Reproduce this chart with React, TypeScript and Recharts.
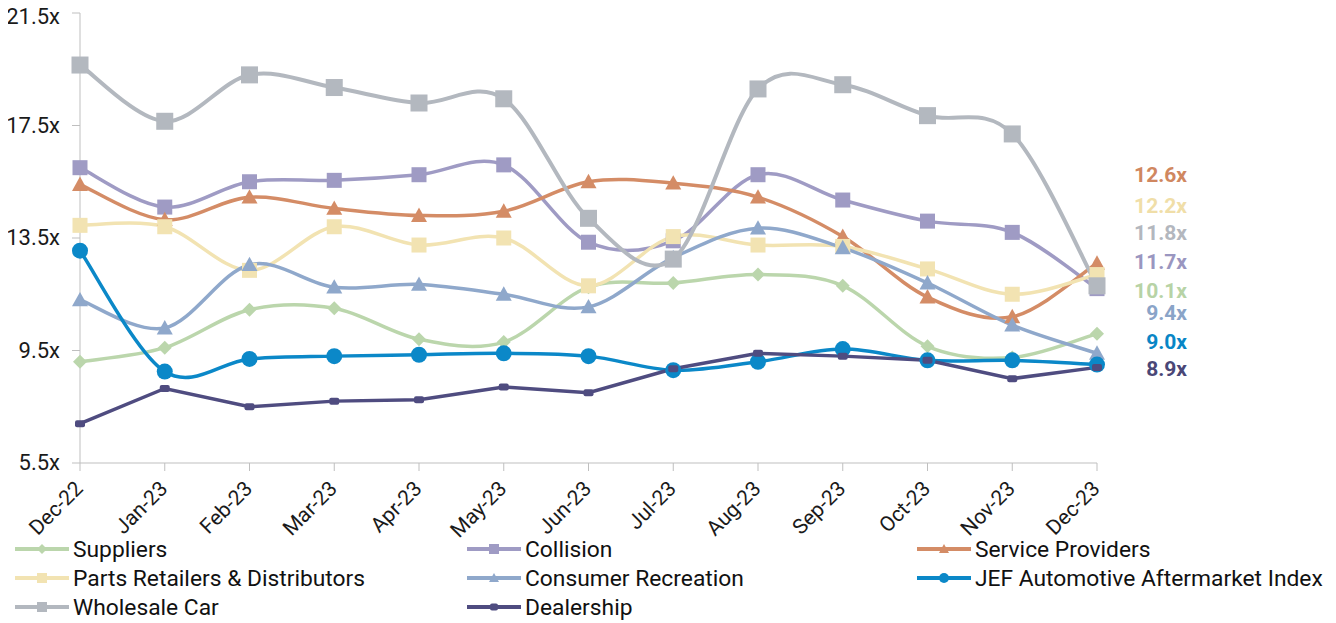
import React from 'react';
import { LineChart, Line, XAxis, YAxis } from 'recharts';

const months = ['Dec-22', 'Jan-23', 'Feb-23', 'Mar-23', 'Apr-23', 'May-23', 'Jun-23', 'Jul-23', 'Aug-23', 'Sep-23', 'Oct-23', 'Nov-23', 'Dec-23'];
const suppliers = [9.1, 9.6, 10.95, 11.0, 9.9, 9.8, 11.75, 11.9, 12.2, 11.8, 9.65, 9.25, 10.1];
const collision = [16.0, 14.6, 15.5, 15.55, 15.75, 16.1, 13.35, 13.4, 15.75, 14.85, 14.1, 13.7, 11.7];
const serviceProviders = [15.4, 14.15, 14.95, 14.55, 14.3, 14.45, 15.5, 15.45, 14.95, 13.55, 11.4, 10.7, 12.6];
const partsRetailers = [13.95, 13.9, 12.35, 13.9, 13.25, 13.5, 11.8, 13.55, 13.25, 13.2, 12.4, 11.5, 12.2];
const consumerRecreation = [11.3, 10.3, 12.55, 11.75, 11.85, 11.5, 11.05, 12.8, 13.85, 13.15, 11.9, 10.4, 9.4];
const jefIndex = [13.05, 8.75, 9.2, 9.3, 9.35, 9.4, 9.3, 8.8, 9.1, 9.55, 9.15, 9.15, 9.0];
const wholesaleCar = [19.65, 17.65, 19.3, 18.85, 18.3, 18.45, 14.2, 12.75, 18.8, 18.95, 17.85, 17.2, 11.8];
const dealership = [6.9, 8.15, 7.5, 7.7, 7.75, 8.2, 8.0, 8.85, 9.4, 9.3, 9.15, 8.5, 8.9];
const yTicks = [5.5, 9.5, 13.5, 17.5, 21.5];

const FONT = 'Roboto, "Noto Sans", sans-serif';

const data = months.map((m, i) => ({
  month: m,
  suppliers: suppliers[i],
  collision: collision[i],
  serviceProviders: serviceProviders[i],
  partsRetailers: partsRetailers[i],
  consumerRecreation: consumerRecreation[i],
  jefIndex: jefIndex[i],
  wholesaleCar: wholesaleCar[i],
  dealership: dealership[i],
}));

// Excel-style smoothing: Catmull-Rom segments as cubic beziers
const smoothCurve = (context: any) => {
  let pts: number[][] = [];
  return {
    areaStart() {},
    areaEnd() {},
    lineStart() { pts = []; },
    point(x: number, y: number) { pts.push([x, y]); },
    lineEnd() {
      if (!pts.length) return;
      context.moveTo(pts[0][0], pts[0][1]);
      for (let i = 0; i < pts.length - 1; i++) {
        const p0 = pts[i - 1] || pts[i];
        const p1 = pts[i];
        const p2 = pts[i + 1];
        const p3 = pts[i + 2] || pts[i + 1];
        context.bezierCurveTo(
          p1[0] + (p2[0] - p0[0]) / 6, p1[1] + (p2[1] - p0[1]) / 6,
          p2[0] - (p3[0] - p1[0]) / 6, p2[1] - (p3[1] - p1[1]) / 6,
          p2[0], p2[1],
        );
      }
    },
  };
};

type Shape = 'square' | 'triangle' | 'diamond' | 'circle' | 'dash';

const marker = (shape: Shape, size: number, color: string, cx: number, cy: number, key?: any) => {
  const h = size / 2;
  switch (shape) {
    case 'square':
      return <rect key={key} x={cx - h} y={cy - h} width={size} height={size} fill={color} />;
    case 'triangle':
      return <polygon key={key} points={`${cx},${cy - h} ${cx + h},${cy + h * 0.8} ${cx - h},${cy + h * 0.8}`} fill={color} />;
    case 'diamond':
      return <polygon key={key} points={`${cx},${cy - h} ${cx + h},${cy} ${cx},${cy + h} ${cx - h},${cy}`} fill={color} />;
    case 'circle':
      return <circle key={key} cx={cx} cy={cy} r={h} fill={color} />;
    default:
      return <rect key={key} x={cx - h} y={cy - 3.5} width={size} height={7} rx={2} fill={color} />;
  }
};

const series = [
  { key: 'suppliers', name: 'Suppliers', color: '#BBD6AC', label: '#B7D3A6', shape: 'diamond' as Shape, size: 14, width: 3.5, dy: -43 },
  { key: 'collision', name: 'Collision', color: '#9F9BC4', label: '#9A96C0', shape: 'square' as Shape, size: 15, width: 3.5, dy: -27 },
  { key: 'serviceProviders', name: 'Service Providers', color: '#D48C66', label: '#D08760', shape: 'triangle' as Shape, size: 16, width: 3.5, dy: -88 },
  { key: 'partsRetailers', name: 'Parts Retailers & Distributors', color: '#F2E3B2', label: '#F0DEA8', shape: 'square' as Shape, size: 15, width: 3.5, dy: -69 },
  { key: 'consumerRecreation', name: 'Consumer Recreation', color: '#8FA8CB', label: '#8AA4C8', shape: 'triangle' as Shape, size: 16, width: 3.5, dy: -40 },
  { key: 'jefIndex', name: 'JEF Automotive Aftermarket Index', color: '#0B88C8', label: '#0886C6', shape: 'circle' as Shape, size: 16, width: 3.5, dy: -23 },
  { key: 'wholesaleCar', name: 'Wholesale Car', color: '#B3B8BF', label: '#B3B7BE', shape: 'square' as Shape, size: 17, width: 4, dy: -53 },
  { key: 'dealership', name: 'Dealership', color: '#4F4C80', label: '#4A4777', shape: 'dash' as Shape, size: 10, width: 3.5, dy: 2 },
];

const lastIndex = months.length - 1;

const XTick = ({ x, y, payload }: any) => (
  <text
    transform={`translate(${x + 4},${y + 17}) rotate(-45)`}
    textAnchor="end"
    fontFamily={FONT}
    fontSize={21}
    fill="#1a1a1a"
  >
    {payload.value}
  </text>
);

const YTick = ({ x, y, payload }: any) => (
  <text x={x - 10} y={y} dy={7} textAnchor="end" fontFamily={FONT} fontSize={22} fill="#1a1a1a">
    {`${payload.value.toFixed(1)}x`}
  </text>
);

// legend slots, relative to the chart box
const legendPos = [
  [7, 541], [459, 541], [909, 541],
  [7, 570], [459, 570], [909, 570],
  [7, 599], [459, 599],
];

export default function App() {
  return (
    <div style={{ position: 'relative', width: 1320, height: 615, fontFamily: FONT }}>
      <style>{'.recharts-surface { overflow: visible; }'}</style>
      <LineChart width={1320} height={540} data={data} margin={{ top: 5, right: 231, left: 0, bottom: 0 }}>
        <XAxis
          dataKey="month"
          height={85}
          interval={0}
          stroke="#BFBFBF"
          tickSize={8}
          tick={<XTick />}
        />
        <YAxis
          width={72}
          domain={[5.5, 21.5]}
          ticks={yTicks}
          stroke="#BFBFBF"
          tickSize={8}
          tick={<YTick />}
        />
        {series.map((s) => (
          <Line
            key={s.key}
            dataKey={s.key}
            name={s.name}
            type={s.shape === 'dash' ? 'linear' : (smoothCurve as any)}
            stroke={s.color}
            strokeWidth={s.width}
            isAnimationActive={false}
            dot={(p: any) => marker(s.shape, s.size, s.color, p.cx, p.cy, `${s.key}-${p.index}`)}
            activeDot={false}
            label={(p: any) =>
              p.index === lastIndex ? (
                <text
                  key={`${s.key}-label`}
                  x={p.x + 90}
                  y={p.y + s.dy}
                  dy={7}
                  textAnchor="end"
                  fontFamily={FONT}
                  fontSize={21}
                  fontWeight={700}
                  fill={s.label}
                >
                  {`${Number(p.value).toFixed(1)}x`}
                </text>
              ) : (
                <g key={`${s.key}-nolabel-${p.index}`} />
              )
            }
          />
        ))}
      </LineChart>
      {series.map((s, i) => (
        <div
          key={s.key}
          style={{
            position: 'absolute',
            left: legendPos[i][0],
            top: legendPos[i][1] - 14,
            height: 28,
            display: 'flex',
            alignItems: 'center',
            whiteSpace: 'nowrap',
          }}
        >
          <svg width={56} height={28}>
            <line x1={0} y1={14} x2={54} y2={14} stroke={s.color} strokeWidth={4} />
            {marker(s.shape, s.shape === 'dash' ? 8 : 10, s.color, 27, 14)}
          </svg>
          <span style={{ fontSize: 22.8, color: '#111', marginLeft: 2 }}>{s.name}</span>
        </div>
      ))}
    </div>
  );
}
